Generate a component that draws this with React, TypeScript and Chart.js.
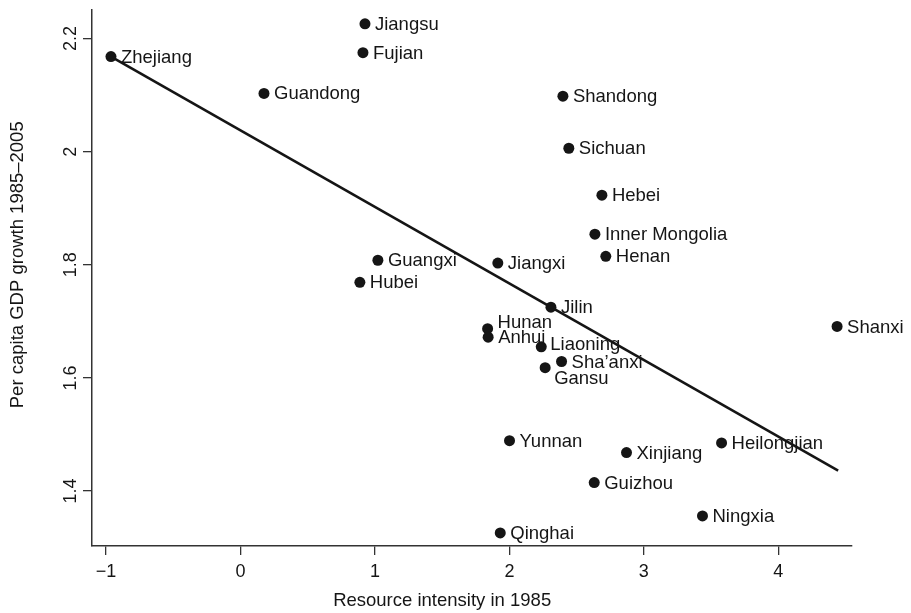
import React, { useEffect, useRef } from "react";
import { Chart, registerables } from "chart.js";

Chart.register(...registerables);

// ---- data ----
const provinces = [
  "Zhejiang", "Jiangsu", "Fujian", "Guandong", "Shandong", "Sichuan", "Hebei",
  "Inner Mongolia", "Henan", "Guangxi", "Jiangxi", "Hubei", "Jilin", "Hunan",
  "Anhui", "Liaoning", "Sha\u2019anxi", "Gansu", "Shanxi", "Yunnan", "Xinjiang",
  "Heilongjian", "Guizhou", "Ningxia", "Qinghai",
];
const resourceIntensity = [
  -0.963, 0.926, 0.911, 0.175, 2.398, 2.442, 2.688,
  2.636, 2.717, 1.022, 1.914, 0.888, 2.309, 1.838,
  1.842, 2.237, 2.388, 2.266, 4.437, 2.001, 2.871,
  3.578, 2.631, 3.436, 1.932,
];
const gdpGrowth = [
  2.168, 2.226, 2.175, 2.103, 2.098, 2.006, 1.923,
  1.854, 1.815, 1.808, 1.803, 1.769, 1.725, 1.687,
  1.672, 1.655, 1.629, 1.618, 1.691, 1.489, 1.468,
  1.485, 1.415, 1.356, 1.326,
];
const fitX = [-0.963, 4.445];
const fitY = [2.168, 1.436];

const xTickValues = [-1, 0, 1, 2, 3, 4];
const xTickLabels = ["\u22121", "0", "1", "2", "3", "4"];
const yTickValues = [1.4, 1.6, 1.8, 2.0, 2.2];
const yTickLabels = ["1.4", "1.6", "1.8", "2", "2.2"];

const xTitle = "Resource intensity in 1985";
const yTitle = "Per capita GDP growth 1985\u20132005";

// ---- styling ----
const FONT = '"Liberation Sans", Arial, Helvetica, sans-serif';
const INK = "#151515";
const AXIS = "#333333";
const LABEL_NUDGE: Record<string, [number, number]> = {
  Hunan: [10, -6],
  Gansu: [9, 11],
  Liaoning: [9, -2],
};

const labelPlugin = {
  id: "pointLabels",
  afterDatasetsDraw(chart: any) {
    const ctx = chart.ctx;
    const meta = chart.getDatasetMeta(0);
    ctx.save();
    ctx.font = `18.5px ${FONT}`;
    ctx.fillStyle = INK;
    ctx.textAlign = "left";
    ctx.textBaseline = "middle";
    meta.data.forEach((el: any, i: number) => {
      const name = provinces[i];
      const [dx, dy] = LABEL_NUDGE[name] || [10, 1];
      ctx.fillText(name, el.x + dx, el.y + dy);
    });
    ctx.restore();
  },
};

const axisTextPlugin = {
  id: "axisText",
  afterDraw(chart: any) {
    const ctx = chart.ctx;
    const xs = chart.scales.x;
    const ys = chart.scales.y;
    const area = chart.chartArea;
    ctx.save();
    ctx.fillStyle = INK;
    ctx.font = `18px ${FONT}`;
    ctx.textAlign = "center";
    ctx.textBaseline = "middle";
    // rotated y tick labels
    yTickValues.forEach((v, i) => {
      const py = ys.getPixelForValue(v);
      ctx.save();
      ctx.translate(area.left - 21, py);
      ctx.rotate(-Math.PI / 2);
      ctx.fillText(yTickLabels[i], 0, 0);
      ctx.restore();
    });
    ctx.font = `18.5px ${FONT}`;
    // y title
    const yMid =
      (ys.getPixelForValue(yTickValues[0]) +
        ys.getPixelForValue(yTickValues[yTickValues.length - 1])) / 2;
    ctx.save();
    ctx.translate(18, yMid);
    ctx.rotate(-Math.PI / 2);
    ctx.fillText(yTitle, 0, 0);
    ctx.restore();
    // x title
    const xMid =
      (xs.getPixelForValue(xTickValues[0]) +
        xs.getPixelForValue(xTickValues[xTickValues.length - 1])) / 2;
    ctx.fillText(xTitle, xMid, 601);
    ctx.restore();
  },
};

export default function App() {
  const canvasRef = useRef<HTMLCanvasElement | null>(null);

  useEffect(() => {
    if (!canvasRef.current) return;
    const points = resourceIntensity.map((x, i) => ({ x, y: gdpGrowth[i] }));
    const fit = fitX.map((x, i) => ({ x, y: fitY[i] }));
    const chart = new Chart(canvasRef.current, {
      type: "scatter",
      data: {
        datasets: [
          {
            label: "Provinces",
            data: points,
            pointRadius: 5.5,
            pointHoverRadius: 5.5,
            pointBackgroundColor: INK,
            pointBorderColor: INK,
            pointBorderWidth: 0,
            showLine: false,
          },
          {
            label: "Fit",
            data: fit,
            showLine: true,
            borderColor: INK,
            borderWidth: 2.6,
            pointRadius: 0,
            fill: false,
          },
        ],
      },
      options: {
        animation: false,
        responsive: true,
        maintainAspectRatio: false,
        devicePixelRatio: 1,
        layout: { padding: { left: 0, top: 10, right: 59, bottom: 0 } },
        plugins: {
          legend: { display: false },
          tooltip: { enabled: false },
          title: { display: false },
        },
        events: [],
        scales: {
          x: {
            type: "linear",
            min: -1.1041,
            max: 4.548,
            afterBuildTicks: (s: any) => {
              s.ticks = xTickValues.map((v) => ({ value: v }));
            },
            afterFit: (s: any) => {
              s.height = 67;
            },
            grid: {
              display: true,
              drawOnChartArea: false,
              drawTicks: true,
              tickLength: 9,
              color: AXIS,
              lineWidth: 1.3,
            },
            border: { display: true, color: AXIS, width: 1.5 },
            ticks: {
              padding: 6,
              color: INK,
              font: { family: FONT, size: 18 },
              maxRotation: 0,
              callback: (v: any) => {
                const idx = xTickValues.indexOf(Number(v));
                return idx >= 0 ? xTickLabels[idx] : "";
              },
            },
          },
          y: {
            type: "linear",
            min: 1.3028,
            max: 2.2504,
            afterBuildTicks: (s: any) => {
              s.ticks = yTickValues.map((v) => ({ value: v }));
            },
            afterFit: (s: any) => {
              s.width = 92;
            },
            grid: {
              display: true,
              drawOnChartArea: false,
              drawTicks: true,
              tickLength: 9,
              color: AXIS,
              lineWidth: 1.3,
            },
            border: { display: true, color: AXIS, width: 1.5 },
            ticks: { display: false },
          },
        },
      },
      plugins: [labelPlugin, axisTextPlugin],
    } as any);
    return () => chart.destroy();
  }, []);

  return (
    <div
      style={{
        position: "absolute",
        left: 0,
        top: 0,
        width: "911px",
        height: "613px",
        background: "#ffffff",
      }}
    >
      <canvas ref={canvasRef} />
    </div>
  );
}
